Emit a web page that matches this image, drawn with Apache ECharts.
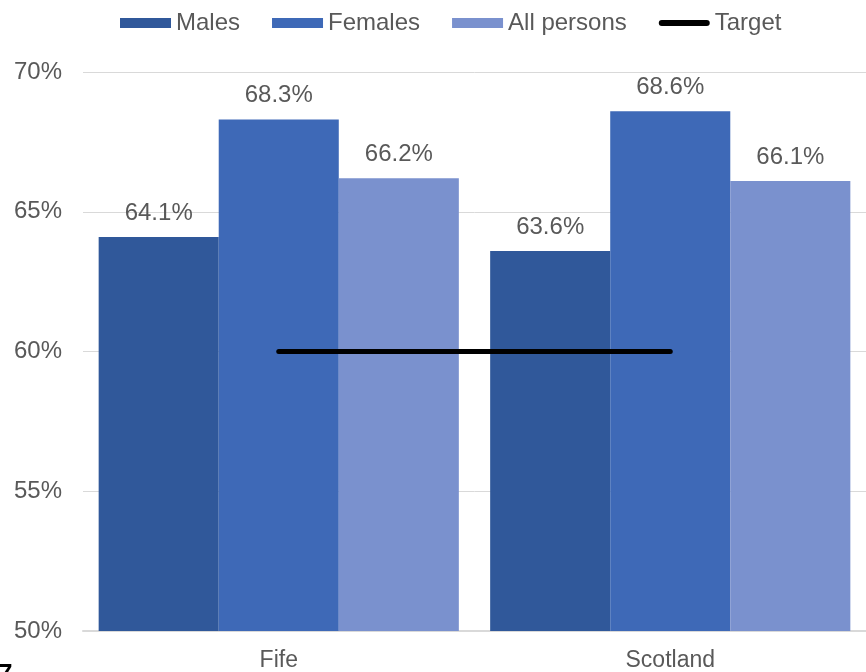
<!DOCTYPE html>
<html>
<head>
<meta charset="utf-8">
<script src="https://cdn.jsdelivr.net/npm/echarts@6/dist/echarts.min.js"></script>
<style>
  html, body { margin: 0; padding: 0; background: #ffffff; }
  #chart { width: 866px; height: 672px; }
</style>
</head>
<body>
<div id="chart"></div>
<script>
// Employment rate by area and sex, with the 60% target
const areas = ['Fife', 'Scotland'];
const males = [64.1, 63.6];
const females = [68.3, 68.6];
const allPersons = [66.2, 66.1];
const target = [60, 60];
const yTicks = { min: 50, max: 70, step: 5 };

const FONT = 'Liberation Sans, Arial, sans-serif';
const TEXT = '#595959';

// thick rounded stroke used as the legend key of the target line
const TARGET_ICON = 'path://M0,0 M51,10 M3,2 L48,2 A3,3 0 0 1 48,8 L3,8 A3,3 0 0 1 3,2 Z';

const barLabel = {
  show: true,
  position: 'top',
  distance: 12,
  color: TEXT,
  fontFamily: FONT,
  fontSize: 24,
  formatter: p => p.value.toFixed(1) + '%'
};

function barSeries(name, data, color) {
  return {
    name: name,
    type: 'bar',
    data: data,
    barGap: '0%',
    barCategoryGap: '8%',
    itemStyle: { color: color },
    label: barLabel,
    emphasis: { disabled: true }
  };
}

const chart = echarts.init(document.getElementById('chart'), null, { renderer: 'canvas' });
chart.setOption({
  animation: false,
  backgroundColor: '#ffffff',
  textStyle: { fontFamily: FONT },
  legend: {
    top: 6,
    left: 115,
    itemWidth: 51,
    itemHeight: 10,
    itemGap: 32,
    textStyle: { color: TEXT, fontSize: 24, fontFamily: FONT },
    data: [
      { name: 'Males', icon: 'rect' },
      { name: 'Females', icon: 'rect' },
      { name: 'All persons', icon: 'rect' },
      { name: 'Target', icon: TARGET_ICON, itemStyle: { color: '#000000' } }
    ]
  },
  grid: { left: 83, right: -3, top: 72, bottom: 40, containLabel: false },
  xAxis: {
    type: 'category',
    data: areas,
    axisTick: { show: false },
    axisLine: { lineStyle: { color: '#d9d9d9', width: 2 } },
    axisLabel: { color: TEXT, fontSize: 23, fontFamily: FONT, margin: 18 }
  },
  yAxis: {
    type: 'value',
    min: yTicks.min,
    max: yTicks.max,
    interval: yTicks.step,
    axisLine: { show: false },
    axisTick: { show: false },
    splitLine: { lineStyle: { color: '#d9d9d9', width: 1 } },
    axisLabel: { color: TEXT, fontSize: 24, fontFamily: FONT, margin: 21, formatter: '{value}%' }
  },
  series: [
    barSeries('Males', males, '#30589a'),
    barSeries('Females', females, '#3e69b7'),
    barSeries('All persons', allPersons, '#7a91ce'),
    {
      name: 'Target',
      type: 'line',
      data: target,
      symbol: 'none',
      z: 5,
      itemStyle: { color: '#000000' },
      lineStyle: { color: '#000000', width: 5, cap: 'round' },
      emphasis: { disabled: true }
    }
  ],
  graphic: [
    {
      type: 'text',
      left: -2,
      top: 662,
      style: { text: '7', fill: '#000000', fontSize: 26, fontWeight: 'bold', fontFamily: FONT }
    }
  ]
});
</script>
</body>
</html>
